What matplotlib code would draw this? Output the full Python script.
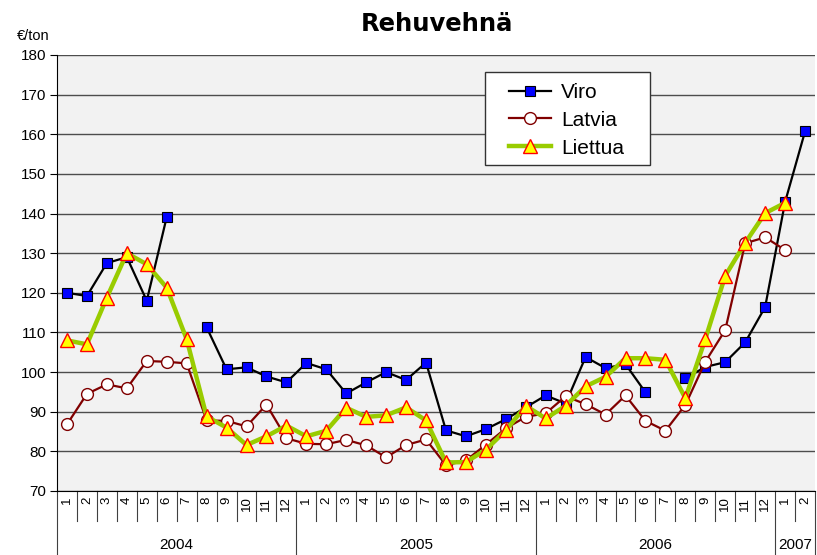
import matplotlib
matplotlib.use("Agg")
import matplotlib.pyplot as plt
import matplotlib.transforms as mtransforms
from matplotlib.patches import Rectangle
import numpy as np

plt.rcParams['font.family'] = ['Liberation Sans', 'DejaVu Sans']

nan = np.nan
years = ['2004', '2005', '2006', '2007']
months_per_year = [12, 12, 12, 2]
months = [str(m) for n in months_per_year for m in range(1, n + 1)]

viro = [120, 119.2, 127.5, 129, 118, 139.1, nan, 111.3, 100.7, 101.2, 98.9, 97.4,
        102.3, 100.7, 94.6, 97.4, 100, 98, 102.4, 85.3, 83.8, 85.6, 88.1, 91.1,
        94.1, 92.1, 103.8, 101, 102, 94.9, nan, 98.4, 101.3, 102.5, 107.5, 116.4,
        142.9, 160.7]
latvia = [86.8, 94.5, 96.9, 95.9, 102.8, 102.6, 102.2, 87.8, 87.7, 86.3, 91.8, 83.3,
          81.9, 81.8, 82.9, 81.5, 78.5, 81.6, 83, 76.5, 77.7, 81.7, 85.8, 88.7,
          89.6, 93.9, 91.9, 89.3, 94.1, 87.7, 85.2, 91.7, 102.6, 110.6, 132.5, 134,
          130.8, nan]
liettua = [108, 107, 118.8, 130, 127.2, 121.3, 108.3, 88.8, 86, 81.6, 83.8, 86.5,
           83.8, 85.2, 91, 88.7, 89.1, 91.1, 87.8, 77.2, 77.3, 80.4, 85.3, 91.5,
           88.3, 91.5, 96.4, 98.8, 103.5, 103.5, 103.1, 93.4, 108.3, 124.3, 132.6, 140.1,
           142.7, nan]

x = np.arange(len(months))

W, H = 817, 555
fig = plt.figure(figsize=(W/100, H/100), dpi=100)
ax = fig.add_axes([57/W, 1 - 491/H, 1 - 57/W - 2/W, 436/H])
ax.set_facecolor('#f2f2f2')

ax.plot(x, viro, color='black', lw=1.6, marker='s', ms=7, mfc='#0000ff', mec='black',
        mew=0.8, label='Viro', zorder=3)
ax.plot(x, latvia, color='#800000', lw=1.6, marker='o', ms=8.5, mfc='white', mec='#800000',
        mew=1.0, label='Latvia', zorder=4)
ax.plot(x, liettua, color='#99cc00', lw=3.2, marker='^', ms=10, mfc='#ffff00', mec='#ff0000',
        mew=1.0, label='Liettua', zorder=5)

ax.set_ylim(70, 180)
ax.set_yticks(np.arange(70, 181, 10))
ax.yaxis.grid(True, color='#4d4d4d', lw=1.0)
ax.set_axisbelow(True)
ax.set_xlim(-0.5, len(months) - 0.5)
for s in ['top', 'right']:
    ax.spines[s].set_visible(False)
ax.tick_params(axis='y', length=5, labelsize=11, pad=3)

ax.set_xticks(x)
ax.set_xticklabels(months, rotation=90, fontsize=9.5)
ax.tick_params(axis='x', length=0, pad=4)

trans = mtransforms.blended_transform_factory(ax.transData, ax.transAxes)
edges = np.arange(len(months) + 1) - 0.5
year_edges = np.concatenate([[0], np.cumsum(months_per_year)]) - 0.5
for e in edges:
    bottom = -64/436 if e in year_edges else -30/436
    ax.plot([e, e], [0, bottom], transform=trans, color='#404040', lw=0.8, clip_on=False)
for i, yr in enumerate(years):
    mid = (year_edges[i] + year_edges[i + 1]) / 2
    ax.text(mid, -54/436, yr, transform=trans, ha='center', va='center', fontsize=11)

fig.text(17/W, 1 - 36/H, '€/ton', fontsize=10.5, ha='left', va='center')
fig.text(437/W, 1 - 24/H, 'Rehuvehnä', fontsize=17.5, fontweight='heavy',
         family='DejaVu Sans', ha='center', va='center')

# legend box drawn by hand so that the padding can match
fig.patches.append(Rectangle((485/W, 1 - 165/H), 165/W, 93/H, transform=fig.transFigure,
                             facecolor='white', edgecolor='#333333', lw=1.0, zorder=6))
leg = fig.legend(*ax.get_legend_handles_labels(), loc='upper left',
                 bbox_to_anchor=(509/W, 1 - 83/H), fontsize=15, frameon=False,
                 borderpad=0, handlelength=2.0, labelspacing=0.42,
                 handletextpad=0.5, borderaxespad=0)
leg.set_zorder(7)

fig.savefig('out.png', dpi=100)
